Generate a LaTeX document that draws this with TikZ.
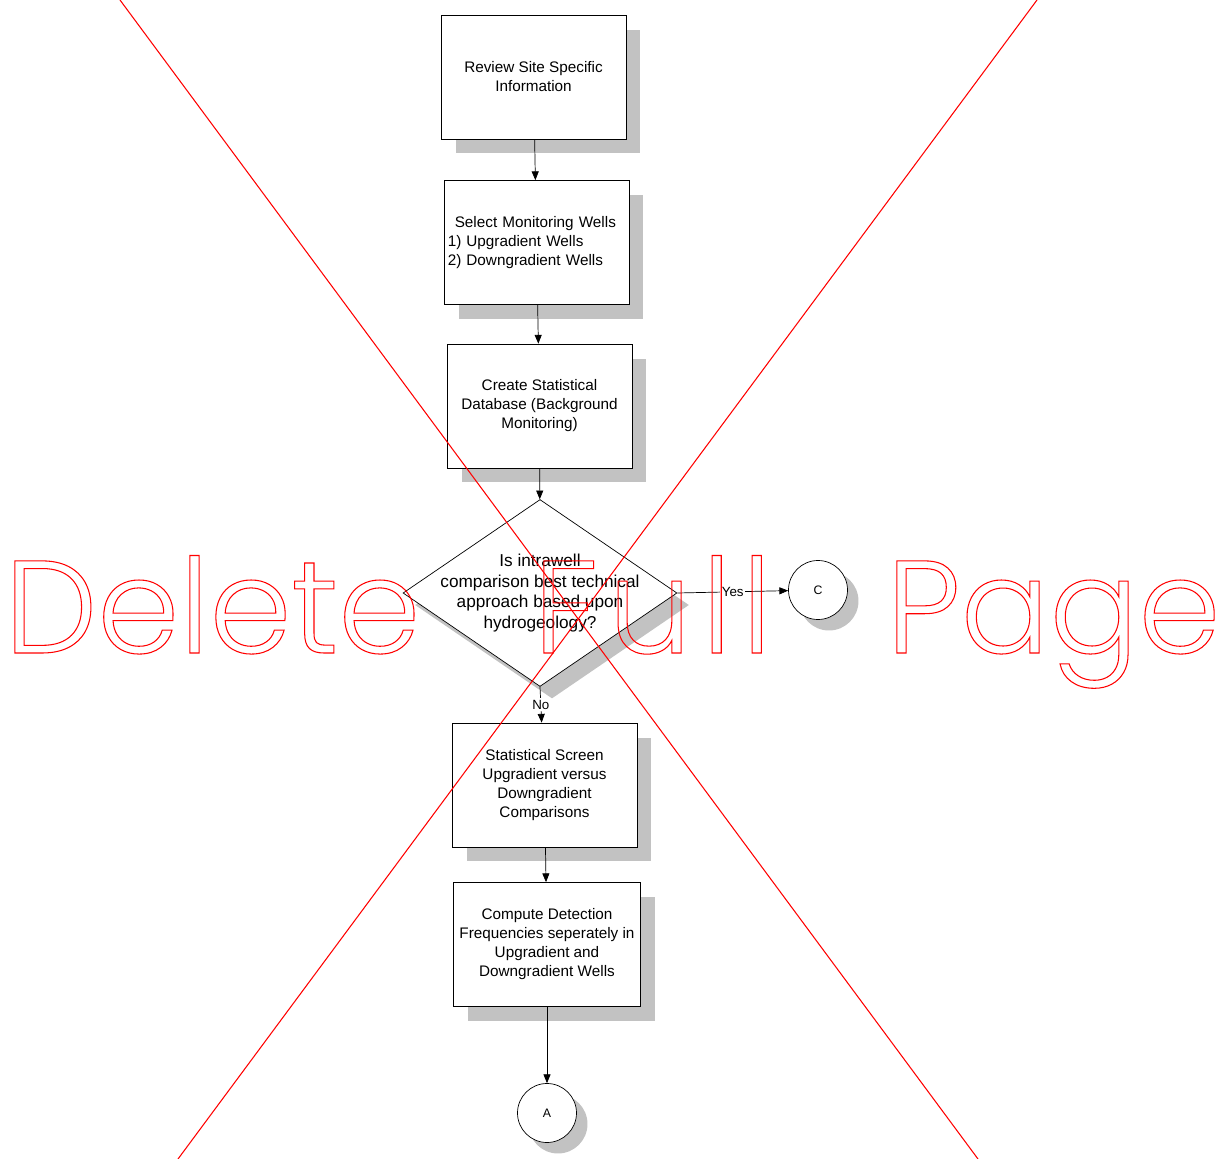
\documentclass[tikz,border=0pt]{standalone}
\usepackage{fontspec}
\setmainfont{Liberation Sans}
\newfontfamily\wmfont{Poppins Light}
\usetikzlibrary{shapes.geometric,shadows,arrows.meta}
% stroke-only text for the red stamp
\newcommand\outlined[1]{\special{pdf:literal direct 1 Tr 0.6 w}#1\special{pdf:literal direct 0 Tr}}

\begin{document}
\begin{tikzpicture}[x=0.02cm,y=-0.02cm,
    >={Triangle[length=5pt,width=4pt]},
    shade/.style={drop shadow={shadow xshift=#1,shadow yshift=-#1,fill=black!24,opacity=1}},
    stepbox/.style={draw,thin,fill=white,minimum width=3.7cm,minimum height=2.48cm,
        align=center,font=\fontsize{8.7}{10.8}\selectfont,shade=0.29cm},
    decision/.style={diamond,draw,thin,fill=white,minimum width=5.48cm,minimum height=3.74cm,
        inner sep=0pt,shade=0.24cm},
    connector/.style={circle,draw,thin,fill=white,minimum size=1.18cm,inner sep=0pt,
        font=\fontsize{7}{8}\selectfont,shade=0.22cm},
    answer/.style={fill=white,inner sep=1pt,font=\fontsize{7.6}{9}\selectfont},
    xline/.style={red,line width=0.6pt},
    wm/.style={text=red,font=\wmfont\fontsize{75}{80}\selectfont,inner sep=0pt,anchor=base west}]
    \useasboundingbox (0,0) rectangle (1225,1159);

    % flow chart
    \node[stepbox] (review) at (533.5,77) {Review Site Specific\\Information};
    \node[stepbox,text width=3.55cm,inner xsep=1pt,align=left] (select) at (536.5,242.5)
        {\hspace*{4pt}Select Monitoring Wells\\1) Upgradient Wells\\2) Downgradient Wells};
    \node[stepbox] (database) at (539.5,406) {Create Statistical\\Database (Background\\Monitoring)};
    \node[decision,label={[font=\fontsize{9.8}{11.9}\selectfont,align=center]center:{Is intrawell\\comparison best technical\\approach based upon\\hydrogeology?}}] (intra) at (540,593) {};
    \node[connector] (conC) at (818,590) {C};
    \node[stepbox] (screen) at (544.5,785) {Statistical Screen\\Upgradient versus\\Downgradient\\Comparisons};
    \node[stepbox] (detect) at (547,944.5) {Compute Detection\\Frequencies seperately in\\Upgradient and\\Downgradient Wells};
    \node[connector] (conA) at (547,1113) {A};

    \draw[->] (review) -- (select);
    \draw[->] (select) -- (database);
    \draw[->] (database) -- (intra);
    \draw[->] (intra.east) -- node[answer] {Yes} (conC);
    \draw[->] (intra.south) -- node[answer] {No} (screen);
    \draw[->] (screen) -- (detect);
    \draw[->] (detect) -- (conA);

    % red stamp
    \coordinate (xa1) at (120,0);
    \coordinate (xa2) at (978,1159);
    \coordinate (xb1) at (1037,0);
    \coordinate (xb2) at (178,1159);
    \draw[xline] (xa1) -- (xa2);
    \draw[xline] (xb1) -- (xb2);
    \node[wm] (wdelete) at (4,653) {\outlined{Delete}};
    \node[wm] (wfull) at (533,653) {\addfontfeature{LetterSpace=7.5}\outlined{Full}};
    \node[wm] (wpage) at (886,653) {\outlined{Page}};
\end{tikzpicture}
\end{document}
